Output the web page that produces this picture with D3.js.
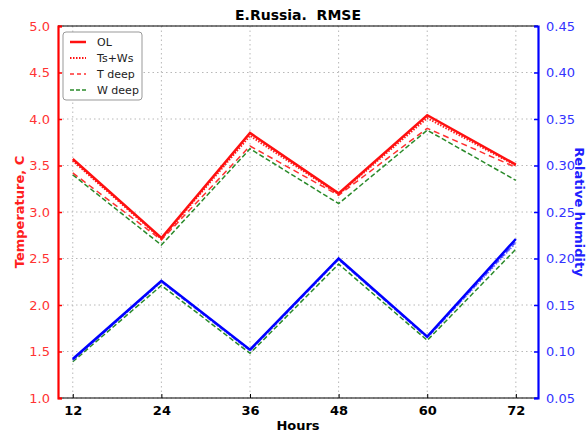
<!DOCTYPE html>
<html>
<head>
<meta charset="utf-8">
<script src="https://cdn.jsdelivr.net/npm/d3@7"></script>
<style>
  body { margin: 0; background: #fff; }
  text { font-family: "DejaVu Sans", sans-serif; }
</style>
</head>
<body>
<svg id="chart" width="587" height="432"></svg>
<script>
// forecast lead times
const hours = [12, 24, 36, 48, 60, 72]

// temperature RMSE, C (left axis)
const tOL = [3.57, 2.72, 3.85, 3.20, 4.04, 3.51]
const tTsWs = [3.55, 2.71, 3.82, 3.19, 4.01, 3.50]
const tTdeep = [3.42, 2.70, 3.71, 3.18, 3.90, 3.48]
const tWdeep = [3.40, 2.645, 3.68, 3.09, 3.88, 3.34]

// relative humidity RMSE (right axis)
const rhOL = [0.092, 0.176, 0.102, 0.200, 0.116, 0.221]
const rhTsWs = [0.091, 0.175, 0.101, 0.199, 0.115, 0.217]
const rhTdeep = [0.091, 0.175, 0.101, 0.199, 0.115, 0.218]
const rhWdeep = [0.089, 0.171, 0.098, 0.194, 0.112, 0.210]

const leftTicks = [1.0, 1.5, 2.0, 2.5, 3.0, 3.5, 4.0, 4.5, 5.0]
const rightTicks = [0.05, 0.10, 0.15, 0.20, 0.25, 0.30, 0.35, 0.40, 0.45]

const legendNames = ["OL", "Ts+Ws", "T deep", "W deep"]

const margin = ({top: 26, right: 49, bottom: 34, left: 58})
const width = 587
const height = 432

const svg = d3.select("#chart")

const x = d3.scaleLinear()
    .domain([10, 75])
    .range([margin.left, width - margin.right])

const yT = d3.scaleLinear()
    .domain([1.0, 5.0])
    .range([height - margin.bottom, margin.top])

const yRH = d3.scaleLinear()
    .domain([0.05, 0.45])
    .range([height - margin.bottom, margin.top])

// grid
const grid = svg.append("g")
grid.selectAll(".vg")
    .data(hours)
    .join("line")
        .attr("x1", d => x(d)).attr("x2", d => x(d))
        .attr("y1", margin.top).attr("y2", height - margin.bottom)
        .attr("stroke", "#b8b8b8")
        .attr("stroke-dasharray", "1.5,3")
grid.selectAll(".hg")
    .data(leftTicks)
    .join("line")
        .attr("y1", d => yT(d)).attr("y2", d => yT(d))
        .attr("x1", margin.left).attr("x2", width - margin.right)
        .attr("stroke", "#b8b8b8")
        .attr("stroke-dasharray", "1.5,3")

// series
const lineT = (vals) => d3.line()
    .x((d, i) => x(hours[i]))
    .y(d => yT(d))(vals)
const lineRH = (vals) => d3.line()
    .x((d, i) => x(hours[i]))
    .y(d => yRH(d))(vals)

const series = [
    {path: lineRH(rhWdeep), color: "#2a8a2a", w: 1.5, dash: "5,2.5"},
    {path: lineRH(rhTdeep), color: "#3030ff", w: 1.5, dash: "5,3"},
    {path: lineRH(rhTsWs), color: "#6a6aff", w: 2, dash: "1.5,1.5"},
    {path: lineRH(rhOL), color: "#0000ff", w: 2.5, dash: null},
    {path: lineT(tWdeep), color: "#2a8a2a", w: 1.5, dash: "5,2.5"},
    {path: lineT(tTdeep), color: "#ff3030", w: 1.5, dash: "6,4"},
    {path: lineT(tTsWs), color: "#ff2020", w: 2, dash: "1.5,1.5"},
    {path: lineT(tOL), color: "#ff1010", w: 2.5, dash: null}
]

svg.append("g")
    .selectAll("path")
    .data(series)
    .join("path")
        .attr("d", d => d.path)
        .attr("fill", "none")
        .attr("stroke", d => d.color)
        .attr("stroke-width", d => d.w)
        .attr("stroke-dasharray", d => d.dash)

// frame: top and bottom black, left red, right blue
svg.append("line")
    .attr("x1", margin.left).attr("x2", width - margin.right)
    .attr("y1", margin.top).attr("y2", margin.top)
    .attr("stroke", "black").attr("stroke-width", 1.2)
svg.append("line")
    .attr("x1", margin.left).attr("x2", width - margin.right)
    .attr("y1", height - margin.bottom).attr("y2", height - margin.bottom)
    .attr("stroke", "black").attr("stroke-width", 1.2)

// left axis
const leftAxis = svg.append("g")
    .attr("transform", `translate(${margin.left},0)`)
    .call(d3.axisLeft(yT).tickValues(leftTicks).tickFormat(d3.format(".1f")).tickSize(-4).tickPadding(8))
leftAxis.select(".domain").attr("stroke", "red").attr("stroke-width", 2.2)
leftAxis.selectAll(".tick line").attr("stroke", "red").attr("stroke-width", 1.5)
leftAxis.selectAll(".tick text")
    .attr("fill", "#ff3333")
    .attr("font-size", 13)
    .attr("font-family", "DejaVu Sans")

// right axis
const rightAxis = svg.append("g")
    .attr("transform", `translate(${width - margin.right},0)`)
    .call(d3.axisRight(yRH).tickValues(rightTicks).tickFormat(d3.format(".2f")).tickSize(-4).tickPadding(8))
rightAxis.select(".domain").attr("stroke", "blue").attr("stroke-width", 2.2)
rightAxis.selectAll(".tick line").attr("stroke", "blue").attr("stroke-width", 1.5)
rightAxis.selectAll(".tick text")
    .attr("fill", "#3333ff")
    .attr("font-size", 13)
    .attr("font-family", "DejaVu Sans")

// bottom axis
const bottomAxis = svg.append("g")
    .attr("transform", `translate(0,${height - margin.bottom})`)
    .call(d3.axisBottom(x).tickValues(hours).tickFormat(d3.format("d")).tickSize(-4).tickPadding(8))
bottomAxis.select(".domain").remove()
bottomAxis.selectAll(".tick line").attr("stroke", "black")
bottomAxis.selectAll(".tick text")
    .attr("fill", "black")
    .attr("font-size", 13)
    .attr("font-weight", "bold")
    .attr("font-family", "DejaVu Sans")

// titles
svg.append("text")
    .text("E.Russia.  RMSE")
    .attr("x", (margin.left + width - margin.right) / 2)
    .attr("y", 20)
    .attr("text-anchor", "middle")
    .attr("font-size", 14)
    .attr("font-weight", "bold")
    .style("white-space", "pre")

svg.append("text")
    .text("Hours")
    .attr("x", (margin.left + width - margin.right) / 2)
    .attr("y", 430)
    .attr("text-anchor", "middle")
    .attr("font-size", 13)
    .attr("font-weight", "bold")

svg.append("text")
    .text("Temperature, C")
    .attr("transform", `translate(24,${(margin.top + height - margin.bottom) / 2}) rotate(-90)`)
    .attr("text-anchor", "middle")
    .attr("font-size", 13)
    .attr("font-weight", "bold")
    .attr("fill", "#ff2020")

svg.append("text")
    .text("Relative humidity")
    .attr("transform", `translate(575,${(margin.top + height - margin.bottom) / 2}) rotate(90)`)
    .attr("text-anchor", "middle")
    .attr("font-size", 13)
    .attr("font-weight", "bold")
    .attr("fill", "#2020ff")

// legend
const legendStyles = [
    {color: "#ff1010", w: 2.5, dash: null},
    {color: "#ff1010", w: 1.8, dash: "1.5,1.5"},
    {color: "#ff3030", w: 1.5, dash: "4,3"},
    {color: "#2a8a2a", w: 1.5, dash: "4,2"}
]
const legend = svg.append("g").attr("transform", "translate(63,32)")
legend.append("rect")
    .attr("width", 79).attr("height", 68)
    .attr("rx", 3)
    .attr("fill", "white")
    .attr("stroke", "#999")
    .attr("stroke-width", 1)
const items = legend.selectAll(".item")
    .data(legendNames)
    .join("g")
        .attr("transform", (d, i) => `translate(0,${10 + i * 16})`)
items.append("line")
    .attr("x1", 7).attr("x2", 23)
    .attr("stroke", (d, i) => legendStyles[i].color)
    .attr("stroke-width", (d, i) => legendStyles[i].w)
    .attr("stroke-dasharray", (d, i) => legendStyles[i].dash)
items.append("text")
    .text(d => d)
    .attr("x", 34)
    .attr("dy", "0.35em")
    .attr("font-size", 11)
    .attr("fill", "#222")
</script>
</body>
</html>
